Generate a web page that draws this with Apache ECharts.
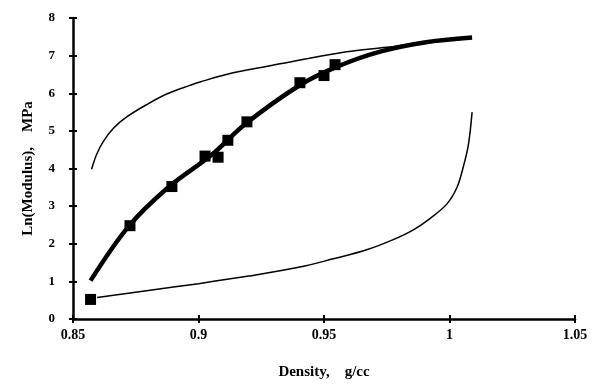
<!DOCTYPE html>
<html>
<head>
<meta charset="utf-8">
<script src="https://cdn.jsdelivr.net/npm/echarts@6/dist/echarts.min.js"></script>
<style>html,body{margin:0;padding:0;background:#fff;}#c{width:595px;height:385px;}</style>
</head>
<body>
<div id="c"></div>
<script>
// Measured data points (density, ln modulus)
var pointsX = [0.857, 0.8727, 0.8894, 0.9026, 0.9078, 0.9117, 0.9193, 0.9404, 0.950, 0.9544];
var pointsY = [0.52, 2.48, 3.52, 4.33, 4.30, 4.75, 5.24, 6.28, 6.47, 6.76];

// Thick fitted curve
var fitX = [0.857, 0.872, 0.888, 0.905, 0.919, 0.940, 0.955, 0.972, 0.990, 1.009];
var fitY = [1.02, 2.45, 3.50, 4.35, 5.20, 6.20, 6.70, 7.10, 7.35, 7.48];

// Upper thin bound
var upperX = [0.8574, 0.8594, 0.8621, 0.8661, 0.8714, 0.8794, 0.8873, 0.8966, 0.9006, 0.913, 0.927, 0.940, 0.959, 0.975, 0.990, 1.009];
var upperY = [3.98, 4.37, 4.72, 5.07, 5.37, 5.70, 5.98, 6.21, 6.30, 6.53, 6.71, 6.88, 7.10, 7.22, 7.35, 7.49];

// Lower thin bound
var lowerX = [0.8596, 0.880, 0.900, 0.920, 0.9404, 0.9537, 0.967, 0.9776, 0.9856, 0.9922, 0.999, 1.003, 1.0054, 1.0075, 1.009];
var lowerY = [0.57, 0.76, 0.94, 1.14, 1.38, 1.60, 1.84, 2.11, 2.37, 2.67, 3.06, 3.50, 4.02, 4.62, 5.50];

var xTicks = [0.85, 0.9, 0.95, 1, 1.05];
var yTicks = [0, 1, 2, 3, 4, 5, 6, 7, 8];

function zip(a, b) { return a.map(function (v, i) { return [v, b[i]]; }); }

var font = '"Liberation Serif", "Times New Roman", serif';
var chart = echarts.init(document.getElementById('c'));
var baseX = {
  type: 'value', min: xTicks[0], max: xTicks[xTicks.length - 1], interval: 0.05,
  splitLine: { show: false }
};
var baseY = {
  type: 'value', min: yTicks[0], max: yTicks[yTicks.length - 1], interval: 1,
  splitLine: { show: false }
};
chart.setOption({
  backgroundColor: '#fff',
  animation: false,
  grid: { left: 73, top: 18, width: 502, height: 306 },
  xAxis: [
    Object.assign({}, baseX, {
      name: 'Density,    g/cc', nameLocation: 'middle', nameGap: 46,
      nameTextStyle: { fontFamily: font, fontWeight: 'bold', fontSize: 15, color: '#000' },
      axisLine: { lineStyle: { color: '#000', width: 2.5 } },
      axisTick: { inside: false, length: 4, lineStyle: { color: '#000', width: 2 } },
      axisLabel: { margin: 9, fontFamily: font, fontWeight: 'bold', fontSize: 14, color: '#000',
        formatter: function (v) { return String(Math.round(v * 100) / 100); } }
    }),
    Object.assign({}, baseX, {
      position: 'bottom',
      axisLine: { show: false },
      axisTick: { inside: true, length: 4, lineStyle: { color: '#000', width: 2 } },
      axisLabel: { show: false }
    })
  ],
  yAxis: [
    Object.assign({}, baseY, {
      name: 'Ln(Modulus),    MPa', nameLocation: 'middle', nameGap: 37,
      nameTextStyle: { fontFamily: font, fontWeight: 'bold', fontSize: 15, color: '#000' },
      axisLine: { lineStyle: { color: '#000', width: 2.5 } },
      axisTick: { inside: false, length: 4, lineStyle: { color: '#000', width: 2 } },
      axisLabel: { margin: 18, fontFamily: font, fontWeight: 'bold', fontSize: 13, color: '#000' }
    }),
    Object.assign({}, baseY, {
      position: 'left',
      axisLine: { show: false },
      axisTick: { inside: true, length: 4, lineStyle: { color: '#000', width: 2 } },
      axisLabel: { show: false }
    })
  ],
  series: [
    { type: 'line', data: zip(upperX, upperY), smooth: 0.35, showSymbol: false,
      lineStyle: { color: '#000', width: 1.5 } },
    { type: 'line', data: zip(lowerX, lowerY), smooth: 0.35, showSymbol: false,
      lineStyle: { color: '#000', width: 1.5 } },
    { type: 'line', data: zip(fitX, fitY), smooth: 0.35, showSymbol: false,
      lineStyle: { color: '#000', width: 4.5 } },
    { type: 'scatter', data: zip(pointsX, pointsY), symbol: 'rect', symbolSize: 11,
      itemStyle: { color: '#000', opacity: 1 } }
  ]
});
</script>
</body>
</html>
